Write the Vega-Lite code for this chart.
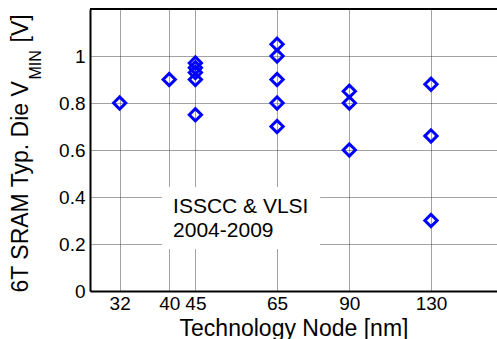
{
  "$schema": "https://vega.github.io/schema/vega-lite/v6.json",
  "autosize": "none",
  "padding": {"left": 90, "top": 9, "right": 0, "bottom": 48},
  "width": 407,
  "height": 282,
  "config": {
    "view": {"stroke": null},
    "font": "Liberation Sans",
    "axis": {
      "labelFont": "Liberation Sans",
      "titleFont": "Liberation Sans",
      "labelColor": "#000",
      "titleColor": "#000",
      "titleFontWeight": "normal",
      "domainColor": "#000",
      "domainWidth": 2,
      "ticks": false,
      "tickSize": 0,
      "gridColor": "#444",
      "gridDash": [1, 1],
      "gridOpacity": 1,
      "labelFontSize": 19,
      "titleFontSize": 23
    }
  },
  "data": {
    "values": [
      {"node": 32, "vmin": 0.8},
      {"node": 40, "vmin": 0.9},
      {"node": 45, "vmin": 0.97},
      {"node": 45, "vmin": 0.95},
      {"node": 45, "vmin": 0.93},
      {"node": 45, "vmin": 0.9},
      {"node": 45, "vmin": 0.75},
      {"node": 65, "vmin": 1.05},
      {"node": 65, "vmin": 1.0},
      {"node": 65, "vmin": 0.9},
      {"node": 65, "vmin": 0.8},
      {"node": 65, "vmin": 0.7},
      {"node": 90, "vmin": 0.85},
      {"node": 90, "vmin": 0.8},
      {"node": 90, "vmin": 0.6},
      {"node": 130, "vmin": 0.88},
      {"node": 130, "vmin": 0.66},
      {"node": 130, "vmin": 0.3}
    ]
  },
  "resolve": {"axis": {"y": "independent"}},
  "layer": [
    {
      "mark": {"type": "point", "shape": "diamond", "filled": false, "stroke": "#0000FF", "strokeWidth": 3, "size": 150, "opacity": 1},
      "encoding": {
        "x": {
          "field": "node", "type": "quantitative",
          "scale": {"type": "log", "domain": [28, 175], "nice": false, "zero": false},
          "axis": {
            "values": [32, 40, 45, 65, 90, 130],
            "format": "d",
            "labelOverlap": false,
            "labelPadding": 3,
            "grid": true,
            "title": "Technology Node [nm]",
            "titleBaseline": "alphabetic",
            "titleY": 44
          }
        },
        "y": {
          "field": "vmin", "type": "quantitative",
          "scale": {"domain": [0, 1.2], "nice": false},
          "axis": {
            "orient": "left",
            "values": [0, 0.2, 0.4, 0.6, 0.8, 1],
            "format": "~g",
            "labelPadding": 5,
            "grid": true,
            "title": "6T SRAM Typ. Die V",
            "titleAngle": -90,
            "titleAlign": "left",
            "titleBaseline": "alphabetic",
            "titleX": -63,
            "titleY": 283
          }
        }
      }
    },
    {
      "data": {"values": [{}]},
      "mark": {"type": "rule", "color": "#000", "strokeWidth": 2},
      "encoding": {
        "y": {
          "datum": 1.2, "type": "quantitative",
          "axis": {
            "orient": "left",
            "labels": false,
            "domain": false,
            "grid": false,
            "ticks": false,
            "title": "MIN",
            "titleFontSize": 16,
            "titleAngle": -90,
            "titleAlign": "left",
            "titleBaseline": "alphabetic",
            "titleX": -50,
            "titleY": 70
          }
        }
      }
    },
    {
      "data": {"values": [{}]},
      "mark": {"type": "rect", "fill": "#fff", "stroke": null},
      "encoding": {
        "x": {"datum": 38.7, "type": "quantitative"},
        "x2": {"datum": 78.9},
        "y": {
          "datum": 0.443, "type": "quantitative",
          "axis": {
            "orient": "left",
            "labels": false,
            "domain": false,
            "grid": false,
            "ticks": false,
            "title": "[V]",
            "titleAngle": -90,
            "titleAlign": "left",
            "titleBaseline": "alphabetic",
            "titleX": -63,
            "titleY": 33
          }
        },
        "y2": {"datum": 0.179}
      }
    },
    {
      "data": {"values": [{}]},
      "mark": {"type": "text", "text": ["ISSCC & VLSI", "2004-2009"], "font": "Liberation Sans", "fontSize": 21, "align": "left", "baseline": "alphabetic", "lineHeight": 24, "color": "#000"},
      "encoding": {
        "x": {"datum": 40.7, "type": "quantitative"},
        "y": {"datum": 0.332, "type": "quantitative", "axis": null}
      }
    }
  ]
}
